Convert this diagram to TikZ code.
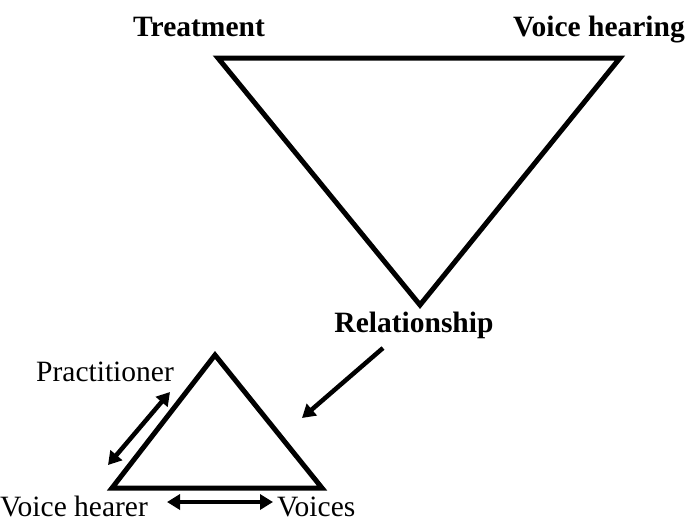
\documentclass[tikz,border=0pt]{standalone}
\usepackage{fontspec}
\setmainfont{Liberation Serif}
\usetikzlibrary{arrows.meta}
\begin{document}
\begin{tikzpicture}[x=1pt,y=-1pt,
  tri/.style={line width=5pt,line join=miter},
  arr/.style={line width=4.5pt,{Triangle[length=13pt,width=15pt]}-{Triangle[length=13pt,width=15pt]}},
  sarr/.style={line width=4.5pt,-{Triangle[length=13pt,width=15pt]}},
  blab/.style={font=\fontsize{29.5}{31}\selectfont\bfseries,anchor=base,inner sep=0pt},
  rlab/.style={font=\fontsize{29.5}{31}\selectfont,anchor=base,inner sep=0pt}]
\useasboundingbox (0,0) rectangle (688,523);
% big triangle
\coordinate (b1) at (218,58);
\coordinate (b2) at (620,58);
\coordinate (b3) at (420,305);
\draw[tri] (b1) -- (b2) -- (b3) -- cycle;
% small triangle
\coordinate (s1) at (215,355);
\coordinate (s2) at (112,488);
\coordinate (s3) at (322,488);
\draw[tri] (s1) -- (s2) -- (s3) -- cycle;
% labels
\node[blab,anchor=base west] (treat) at (133,36) {Treatment};
\node[blab,anchor=base east] (vh) at (685,36) {Voice hearing};
\node[blab] (rel) at (414,332) {Relationship};
\node[rlab,anchor=base west] (prac) at (36,381) {Practitioner};
\node[rlab,anchor=base west] (vhr) at (0,516) {Voice hearer};
\node[rlab,anchor=base west] (voices) at (277,516) {Voices};
% arrows
\coordinate (pa) at (108,465);
\coordinate (pb) at (170,392);
\draw[arr] (pa) -- (pb);
\coordinate (ha) at (167,502);
\coordinate (hb) at (273,502);
\draw[arr] (ha) -- (hb);
\coordinate (ra) at (383,348);
\coordinate (rb) at (302,418);
\draw[sarr] (ra) -- (rb);
\end{tikzpicture}
\end{document}
